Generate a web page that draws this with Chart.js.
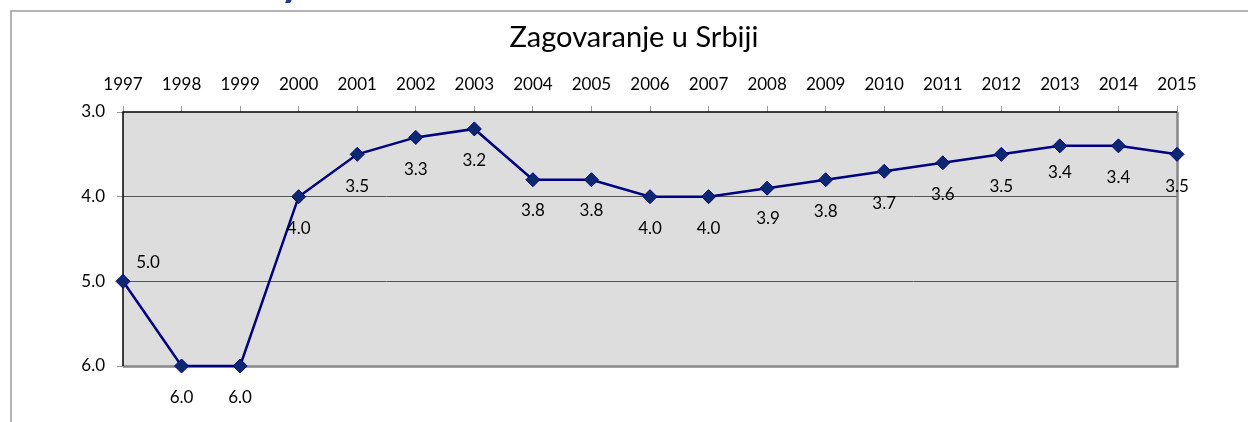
<!DOCTYPE html>
<html>
<head>
<meta charset="utf-8">
<script src="https://cdn.jsdelivr.net/npm/chart.js@4.4.1/dist/chart.umd.min.js"></script>
<style>
  html, body { margin: 0; padding: 0; background: #fff; }
  #wrap { width: 1248px; height: 422px; position: relative; }
</style>
</head>
<body>
<div id="wrap"><canvas id="chart" width="1248" height="422"></canvas></div>
<script>
const years = ["1997", "1998", "1999", "2000", "2001", "2002", "2003", "2004", "2005", "2006",
  "2007", "2008", "2009", "2010", "2011", "2012", "2013", "2014", "2015"];
const advocacy = [5.0, 6.0, 6.0, 4.0, 3.5, 3.3, 3.2, 3.8, 3.8, 4.0, 4.0, 3.9, 3.8, 3.7, 3.6, 3.5, 3.4, 3.4, 3.5];
const yTicks = [3, 4, 5, 6];
const chartTitle = "Zagovaranje u Srbiji";

const FONT = "Lato, 'Open Sans', sans-serif";

// where the value labels sit relative to their point (most sit below)
const labelShift = { 0: [25, -19], 7: [0, 31], 8: [0, 31], 11: [1, 30], 16: [0, 27] };

const decorations = {
  id: "decorations",
  beforeDraw(chart) {
    const { ctx } = chart;
    const a = chart.chartArea;
    ctx.save();
    // outer frame of the slide
    ctx.strokeStyle = "#9a9a9a";
    ctx.lineWidth = 1.5;
    ctx.beginPath();
    ctx.moveTo(11, 422);
    ctx.lineTo(11, 11);
    ctx.lineTo(1248, 11);
    ctx.stroke();
    // cut-off heading above the frame
    ctx.fillStyle = "#1f3a8a";
    ctx.font = "bold 44px " + FONT;
    ctx.textAlign = "left";
    ctx.textBaseline = "alphabetic";
    ctx.fillText("y", 280, -4);
    // plot background
    ctx.fillStyle = "#dddddd";
    ctx.fillRect(a.left, a.top, a.right - a.left, a.bottom - a.top);
    // title
    ctx.fillStyle = "#000";
    ctx.font = "29px " + FONT;
    ctx.textAlign = "center";
    ctx.textBaseline = "middle";
    ctx.fillText(chartTitle, 634, 38);
    ctx.restore();
  },
  beforeDatasetsDraw(chart) {
    const { ctx } = chart;
    const a = chart.chartArea;
    ctx.save();
    ctx.strokeStyle = "#888";
    ctx.lineWidth = 2.5;
    ctx.beginPath();
    ctx.moveTo(a.left, a.bottom + 0.5);
    ctx.lineTo(a.right + 0.5, a.bottom + 0.5);
    ctx.lineTo(a.right + 0.5, a.top);
    ctx.stroke();
    ctx.strokeStyle = "#000";
    ctx.lineWidth = 1.5;
    ctx.beginPath();
    ctx.moveTo(a.left, a.bottom);
    ctx.lineTo(a.left, a.top);
    ctx.lineTo(a.right, a.top);
    ctx.stroke();
    ctx.restore();
  },
  afterDatasetsDraw(chart) {
    const { ctx } = chart;
    const meta = chart.getDatasetMeta(0);
    ctx.save();
    ctx.fillStyle = "#000";
    ctx.font = "17px " + FONT;
    ctx.textAlign = "center";
    ctx.textBaseline = "middle";
    meta.data.forEach((pt, i) => {
      const s = labelShift[i] || [0, 32];
      ctx.fillText(advocacy[i].toFixed(1), pt.x + s[0], pt.y + s[1]);
    });
    ctx.restore();
  }
};

new Chart(document.getElementById("chart"), {
  type: "line",
  data: {
    labels: years,
    datasets: [{
      data: advocacy,
      borderColor: "#000080",
      borderWidth: 2.5,
      pointStyle: "rectRot",
      pointRadius: 7,
      pointBackgroundColor: "#0b2870",
      pointBorderColor: "#000080",
      pointBorderWidth: 1,
      tension: 0,
      clip: false
    }]
  },
  options: {
    responsive: false,
    animation: false,
    events: [],
    layout: { padding: { left: 0, top: 0, right: 71, bottom: 56 } },
    plugins: { legend: { display: false }, title: { display: false }, tooltip: { enabled: false } },
    scales: {
      x: {
        position: "top",
        offset: false,
        afterFit: s => { s.height = 112; },
        grid: { drawOnChartArea: false, drawTicks: true, tickLength: 6, tickColor: "#999", tickWidth: 1 },
        border: { display: false },
        ticks: { color: "#000", font: { family: FONT, size: 17 }, padding: 11, maxRotation: 0, autoSkip: false }
      },
      y: {
        reverse: true,
        min: 3,
        max: 6,
        afterFit: s => { s.width = 123; },
        afterBuildTicks: s => { s.ticks = yTicks.map(v => ({ value: v })); },
        grid: {
          color: c => (c.tick && (c.tick.value === 4 || c.tick.value === 5)) ? "#555" : "rgba(0,0,0,0)",
          lineWidth: 1,
          tickLength: 6,
          tickColor: "#999"
        },
        border: { display: false },
        ticks: {
          color: "#000",
          font: { family: FONT, size: 17 },
          padding: 12,
          callback: v => Number(v).toFixed(1)
        }
      }
    }
  },
  plugins: [decorations]
});
</script>
</body>
</html>
